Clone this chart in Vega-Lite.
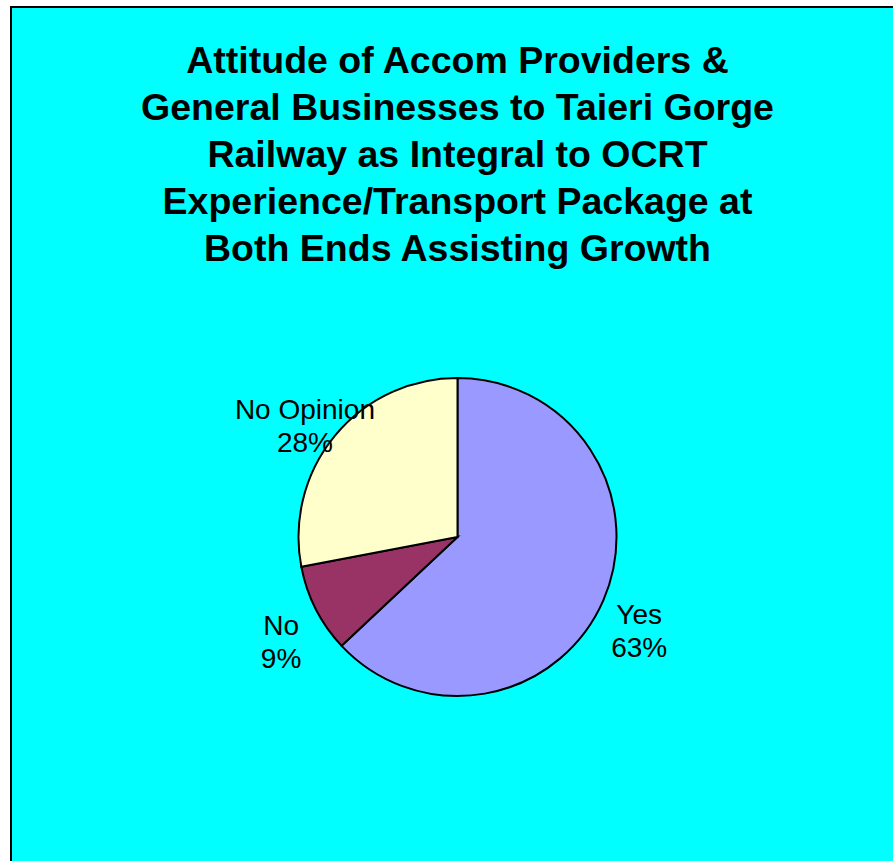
{
  "$schema": "https://vega.github.io/schema/vega-lite/v6.json",
  "autosize": {"type": "none"},
  "width": 893,
  "height": 1060,
  "padding": {"left": 11, "top": 7, "right": 0, "bottom": 0},
  "background": "white",
  "view": {"fill": "#00FFFF", "stroke": "black", "strokeWidth": 2},
  "title": {
    "text": [
      "Attitude of Accom Providers &",
      "General Businesses to Taieri Gorge",
      "Railway as Integral to OCRT",
      "Experience/Transport Package at",
      "Both Ends Assisting Growth"
    ],
    "font": "Liberation Sans",
    "fontSize": 37.5,
    "fontWeight": "bold",
    "color": "black",
    "lineHeight": 47,
    "anchor": "middle",
    "baseline": "top",
    "offset": -261
  },
  "data": {
    "values": [
      {"answer": "Yes", "share": 63, "label": ["Yes", "63%"], "rank": 1},
      {"answer": "No", "share": 9, "label": ["No", "9%"], "rank": 2},
      {"answer": "No Opinion", "share": 28, "label": ["No Opinion", "28%"], "rank": 3}
    ]
  },
  "encoding": {
    "theta": {"field": "share", "type": "quantitative", "stack": true},
    "order": {"field": "rank", "type": "quantitative"},
    "color": {
      "field": "answer",
      "type": "nominal",
      "scale": {"domain": ["Yes", "No", "No Opinion"], "range": ["#9999FF", "#993366", "#FFFFCC"]},
      "legend": null
    }
  },
  "layer": [
    {"mark": {"type": "arc", "outerRadius": 159, "stroke": "black", "strokeWidth": 2}},
    {
      "mark": {"type": "text", "radius": 198, "font": "Liberation Sans", "fontSize": 28, "lineHeight": 33, "color": "black", "align": "center", "baseline": "middle"},
      "encoding": {"text": {"field": "label"}, "color": {"value": "black"}}
    }
  ]
}
